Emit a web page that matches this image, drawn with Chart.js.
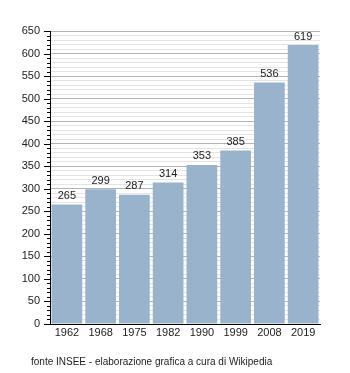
<!DOCTYPE html>
<html>
<head>
<meta charset="utf-8">
<script src="https://cdn.jsdelivr.net/npm/chart.js@4/dist/chart.umd.min.js"></script>
<style>
  html, body { margin: 0; padding: 0; background: #fff; }
  #wrap { width: 350px; height: 373px; position: relative; }
</style>
</head>
<body>
<div id="wrap"><canvas id="grafico"></canvas></div>
<script>
const anni = ['1962', '1968', '1975', '1982', '1990', '1999', '2008', '2019'];
const abitanti = [265, 299, 287, 314, 353, 385, 536, 619];
const fonte = 'fonte INSEE - elaborazione grafica a cura di Wikipedia';

const FONT = '"Liberation Sans", Arial, sans-serif';
const TESTO = '#222';

// tacche dell'asse y: corte ogni 10, lunghe ogni 50
const tacchePlugin = {
    id: 'tacche',
    afterDraw(chart) {
        const { ctx, scales: { y } } = chart;
        const x0 = y.right;
        ctx.save();
        ctx.strokeStyle = '#000';
        ctx.lineWidth = 1;
        for (let v = 0; v <= y.max; v += 10) {
            const py = Math.round(y.getPixelForValue(v)) + 0.5;
            const len = v % 50 === 0 ? 6 : 3;
            ctx.beginPath();
            ctx.moveTo(x0 - len, py);
            ctx.lineTo(x0, py);
            ctx.stroke();
        }
        ctx.restore();
    }
};

// etichette con il valore sopra ogni barra
const valoriPlugin = {
    id: 'valori',
    afterDatasetsDraw(chart) {
        const { ctx } = chart;
        const meta = chart.getDatasetMeta(0);
        ctx.save();
        ctx.font = '11px ' + FONT;
        ctx.fillStyle = TESTO;
        ctx.textAlign = 'center';
        ctx.textBaseline = 'bottom';
        meta.data.forEach((bar, i) => {
            ctx.fillText(abitanti[i], bar.x, bar.y - 3);
        });
        ctx.restore();
    }
};

const fontePlugin = {
    id: 'fonte',
    afterDraw(chart) {
        const { ctx } = chart;
        ctx.save();
        ctx.font = '10px ' + FONT;
        ctx.fillStyle = TESTO;
        ctx.textAlign = 'left';
        ctx.textBaseline = 'middle';
        ctx.fillText(fonte, 31, 362);
        ctx.restore();
    }
};

new Chart(document.getElementById('grafico'), {
    type: 'bar',
    data: {
        labels: anni,
        datasets: [{
            data: abitanti,
            backgroundColor: '#9ab3cd',
            borderWidth: 0,
            barPercentage: 0.91,
            categoryPercentage: 1
        }]
    },
    options: {
        responsive: true,
        maintainAspectRatio: false,
        animation: false,
        events: [],
        layout: { padding: { top: 31, right: 30, left: 0, bottom: 0 } },
        plugins: {
            legend: { display: false },
            tooltip: { enabled: false }
        },
        scales: {
            x: {
                grid: { display: false, drawTicks: false },
                border: { color: '#000', width: 1 },
                ticks: { color: TESTO, font: { family: FONT, size: 11 }, padding: 2, maxRotation: 0 },
                afterFit: s => { s.height = 49; }
            },
            y: {
                min: 0,
                max: 650,
                grid: {
                    drawTicks: false,
                    color: c => c.tick.value % 50 === 0 ? '#b4b4b4' : '#e4e4e4'
                },
                border: { color: '#000', width: 1 },
                ticks: {
                    stepSize: 10,
                    autoSkip: false,
                    color: TESTO,
                    font: { family: FONT, size: 11 },
                    padding: 10,
                    callback: v => v % 50 === 0 ? v : ''
                },
                afterFit: s => { s.width = 50; }
            }
        }
    },
    plugins: [tacchePlugin, valoriPlugin, fontePlugin]
});
</script>
</body>
</html>
